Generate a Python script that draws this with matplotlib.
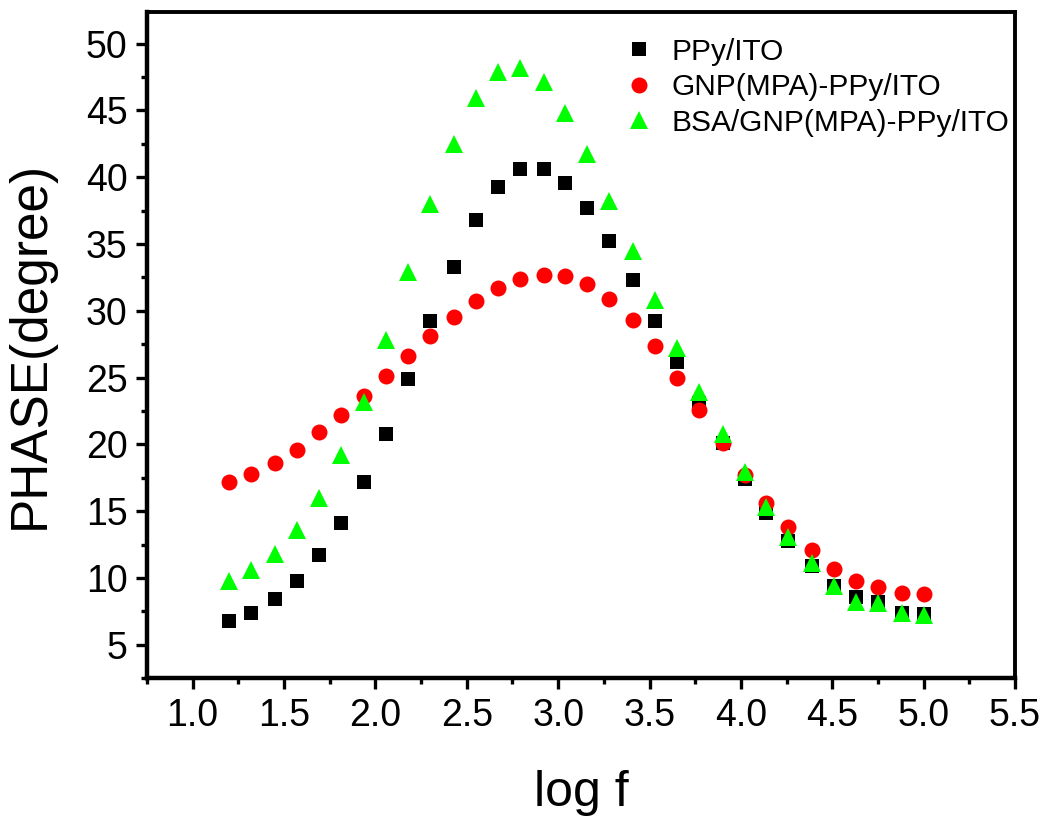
import numpy as np
import matplotlib
matplotlib.use('Agg')
import matplotlib.pyplot as plt
from matplotlib.ticker import MultipleLocator

plt.rcParams['font.family'] = ['Liberation Sans', 'DejaVu Sans']

# log f values (shared by all three series)
log_f = [1.20, 1.32, 1.45, 1.57, 1.69, 1.81, 1.94, 2.06, 2.18, 2.30, 2.43,
         2.55, 2.67, 2.79, 2.92, 3.04, 3.16, 3.28, 3.41, 3.53, 3.65, 3.77,
         3.90, 4.02, 4.14, 4.26, 4.39, 4.51, 4.63, 4.75, 4.88, 5.00]

# phase (degree)
ppy_ito = [6.8, 7.4, 8.4, 9.8, 11.7, 14.1, 17.2, 20.8, 24.9, 29.2, 33.3,
           36.8, 39.3, 40.6, 40.6, 39.6, 37.7, 35.2, 32.3, 29.2, 26.2, 23.1,
           20.1, 17.4, 14.9, 12.8, 10.9, 9.4, 8.6, 8.2, 7.4, 7.3]
gnp_ppy_ito = [17.2, 17.8, 18.6, 19.6, 20.9, 22.2, 23.6, 25.1, 26.6, 28.1, 29.5,
               30.7, 31.7, 32.4, 32.7, 32.6, 32.0, 30.9, 29.3, 27.4, 25.0, 22.6,
               20.1, 17.7, 15.6, 13.8, 12.1, 10.7, 9.8, 9.3, 8.9, 8.8]
bsa_gnp_ppy_ito = [9.8, 10.6, 11.8, 13.6, 16.0, 19.2, 23.2, 27.8, 32.9, 38.0, 42.5,
                   45.9, 47.9, 48.2, 47.1, 44.8, 41.7, 38.2, 34.5, 30.8, 27.2, 23.9,
                   20.8, 17.9, 15.3, 13.1, 11.1, 9.4, 8.2, 8.1, 7.4, 7.2]

labels = ['PPy/ITO', 'GNP(MPA)-PPy/ITO', 'BSA/GNP(MPA)-PPy/ITO']

fig = plt.figure(figsize=(10.47, 8.25), dpi=100)
ax = fig.add_axes([0.1404, 0.178, 0.8290, 0.808])

ax.plot(log_f, ppy_ito, 's', color='black', ms=10, mew=0, label=labels[0])
ax.plot(log_f, gnp_ppy_ito, 'o', color='#ff0000', ms=11.5, mew=0, label=labels[1])
ax.plot(log_f, bsa_gnp_ppy_ito, '^', color='#00ff00', ms=13, mew=0, label=labels[2])

ax.set_xlim(0.75, 5.5)
ax.set_ylim(2.5, 52.4)
ax.xaxis.set_minor_locator(MultipleLocator(0.25))
ax.yaxis.set_minor_locator(MultipleLocator(2.5))
ax.set_xticks(np.arange(1.0, 5.51, 0.5))
ax.set_yticks(np.arange(5, 50.1, 5))

for s in ax.spines.values():
    s.set_linewidth(2.8)
ax.spines['left'].set_linewidth(3.2)
ax.spines['bottom'].set_linewidth(3.2)
ax.tick_params(which='major', direction='out', length=8, width=2.4,
               labelsize=27, pad=6)
ax.tick_params(which='minor', direction='out', length=4, width=2.4)
ax.tick_params(top=False, right=False, which='both')

ax.set_xlabel('log f', fontsize=36, labelpad=26)
ax.set_ylabel('PHASE(degree)', fontsize=37, labelpad=22)

ax.legend(loc='upper right', bbox_to_anchor=(1.018, 0.992), frameon=False,
          fontsize=21.5, handletextpad=0.6, labelspacing=0.25,
          handlelength=1.0, borderaxespad=0.3)

fig.savefig('out.png', dpi=100)
